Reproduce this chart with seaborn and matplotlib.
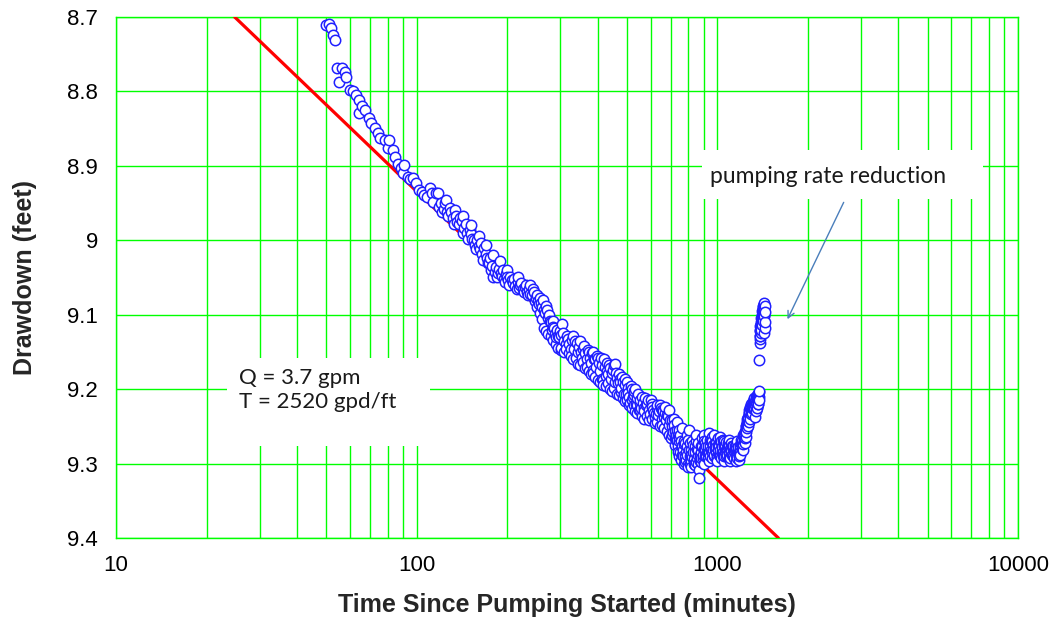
import numpy as np
import pandas as pd
import matplotlib
matplotlib.use("Agg")
import matplotlib.pyplot as plt
from matplotlib.patches import Rectangle
from matplotlib.ticker import FixedLocator, LogLocator, NullFormatter
import seaborn as sns

# Observed drawdown (feet) versus elapsed time (minutes)
time_early = [50.1, 51.0, 51.7, 52.5, 53.5, 54.1, 55.2, 56.5, 57.7, 58.1, 59.8, 61.4, 63.0,
              64.3, 64.5, 65.6, 67.3, 69.6, 70.7, 72.5, 74.3, 75.3, 78.4, 80.5, 80.9, 83.5,
              84.5, 86.5, 88.5, 90.0, 91.0, 93.5, 95.0, 97.0, 99.6, 102, 104, 106, 107.8,
              110.5, 112, 112.9, 116, 117.5, 119]
draw_early = [8.711, 8.709, 8.715, 8.724, 8.731, 8.768, 8.788, 8.768, 8.774, 8.780, 8.798,
              8.800, 8.805, 8.812, 8.829, 8.820, 8.825, 8.836, 8.843, 8.849, 8.856, 8.863,
              8.865, 8.876, 8.865, 8.879, 8.888, 8.897, 8.903, 8.910, 8.899, 8.915, 8.918,
              8.917, 8.923, 8.932, 8.935, 8.939, 8.942, 8.930, 8.937, 8.948, 8.937, 8.937,
              8.955]

time_mid = [120, 123, 126, 129, 132, 135, 138, 141, 144, 147, 150, 153, 156, 159, 162, 165,
            168, 171, 174, 177, 180, 183, 186, 189, 192, 195, 198, 201, 205, 209, 213, 217,
            221, 225, 229, 233, 237, 241, 245, 249, 253, 257, 261, 265, 269, 273, 277, 281,
            285, 289, 293, 297, 301]
draw_mid = [8.950, 8.958, 8.962, 8.957, 8.970, 8.968, 8.978, 8.974, 8.984, 8.990, 8.986,
            8.998, 9.006, 9.000, 9.012, 9.018, 9.010, 9.024, 9.030, 9.040, 9.049, 9.036,
            9.044, 9.028, 9.048, 9.052, 9.045, 9.054, 9.050, 9.058, 9.062, 9.056, 9.060,
            9.066, 9.063, 9.070, 9.066, 9.074, 9.070, 9.078, 9.082, 9.078, 9.090, 9.094,
            9.088, 9.104, 9.108, 9.120, 9.116, 9.126, 9.121, 9.130, 9.127]
time_mid_b = [121.5, 124.5, 127.5, 130.5, 133.5, 136.5, 139.5, 142.5, 145.5, 148.5, 151.5,
              154.5, 157.5, 160.5, 163.5, 166.5, 169.5, 172.5, 175.5, 178.5, 181.5, 184.5,
              187.5, 190.5, 193.5, 196.5, 199.5, 203, 207, 211, 215, 219, 223, 227, 231,
              235, 239, 243, 247, 251, 255, 259, 263, 267, 271, 275, 279, 283, 287, 291,
              295, 299]
draw_mid_b = [8.962, 8.950, 8.968, 8.962, 8.978, 8.975, 8.970, 8.990, 8.978, 8.998, 8.992,
              9.000, 9.012, 9.008, 9.004, 9.026, 9.018, 9.030, 9.024, 9.034, 9.042, 9.050,
              9.038, 9.044, 9.040, 9.056, 9.050, 9.060, 9.054, 9.052, 9.066, 9.064, 9.058,
              9.070, 9.060, 9.074, 9.072, 9.066, 9.082, 9.074, 9.086, 9.084, 9.080, 9.098,
              9.094, 9.100, 9.110, 9.108, 9.118, 9.130, 9.128, 9.122]
time_mid_top = [125, 134, 143, 152, 161, 170, 179, 199, 218, 238]
draw_mid_top = [8.946, 8.960, 8.968, 8.980, 8.994, 9.006, 9.020, 9.040, 9.050, 9.060]

time_late = [303, 305, 310, 316, 322, 328, 334, 340, 346, 352, 358, 364, 370, 376, 382, 386,
             392, 398, 404, 410, 416, 422, 428, 434, 440, 446, 452, 458, 464, 470, 476, 482,
             488, 494, 500, 506, 512, 518, 524, 530, 536, 542, 548, 554, 560, 568, 576, 584,
             592, 600, 608, 616, 624, 632, 640, 648, 656, 664, 672, 680, 688, 696]
draw_late = [9.145, 9.112, 9.135, 9.128, 9.140, 9.134, 9.146, 9.138, 9.143, 9.150, 9.146,
             9.152, 9.147, 9.158, 9.152, 9.174, 9.160, 9.155, 9.165, 9.158, 9.188, 9.170,
             9.165, 9.180, 9.172, 9.179, 9.168, 9.166, 9.185, 9.180, 9.190, 9.184, 9.206,
             9.195, 9.190, 9.205, 9.219, 9.200, 9.210, 9.203, 9.220, 9.212, 9.228, 9.215,
             9.210, 9.225, 9.212, 9.220, 9.228, 9.215, 9.224, 9.232, 9.233, 9.222, 9.230,
             9.226, 9.228, 9.238, 9.224, 9.235, 9.228, 9.242]
time_late_b = [307, 313, 319, 325, 331, 337, 343, 349, 355, 361, 367, 373, 379, 385, 389,
               395, 401, 407, 413, 419, 425, 431, 437, 443, 449, 455, 461, 467, 473, 479,
               485, 491, 497, 503, 509, 515, 521, 527, 533, 539, 545, 551, 557, 564, 572,
               580, 588, 596, 604, 612, 620, 628, 636, 644, 652, 660, 668, 676, 684, 692]
draw_late_b = [9.124, 9.140, 9.132, 9.146, 9.128, 9.136, 9.150, 9.136, 9.158, 9.142, 9.160,
               9.150, 9.165, 9.150, 9.160, 9.170, 9.158, 9.176, 9.168, 9.160, 9.182, 9.175,
               9.168, 9.186, 9.174, 9.190, 9.178, 9.192, 9.186, 9.198, 9.190, 9.186, 9.206,
               9.198, 9.210, 9.196, 9.215, 9.208, 9.200, 9.222, 9.206, 9.218, 9.226, 9.218,
               9.230, 9.222, 9.215, 9.234, 9.220, 9.228, 9.238, 9.226, 9.235, 9.222, 9.240,
               9.230, 9.232, 9.242, 9.236, 9.248]
time_late_low = [252, 258, 262, 266, 270, 274, 279, 284, 290, 296, 302, 308, 314, 320, 326,
                 332, 338, 344, 350, 356, 362, 368, 374, 380, 387, 393, 400, 406, 412, 418,
                 426, 433, 440, 447, 454, 462, 470, 478, 486, 494, 502, 510, 518, 526, 534,
                 542, 552, 562, 572, 582, 594, 606, 618, 630, 642, 654, 666, 678, 690, 702]
draw_late_low = [9.090, 9.098, 9.106, 9.118, 9.122, 9.126, 9.128, 9.134, 9.140, 9.145,
                 9.148, 9.150, 9.146, 9.152, 9.156, 9.160, 9.158, 9.166, 9.168, 9.164,
                 9.172, 9.170, 9.176, 9.180, 9.178, 9.184, 9.188, 9.190, 9.186, 9.194,
                 9.196, 9.192, 9.200, 9.202, 9.198, 9.206, 9.208, 9.204, 9.212, 9.216,
                 9.214, 9.222, 9.226, 9.222, 9.230, 9.232, 9.228, 9.236, 9.240, 9.236,
                 9.242, 9.240, 9.246, 9.244, 9.250, 9.248, 9.252, 9.256, 9.262, 9.266]

time_flat = [704, 708, 712, 718, 722, 727, 732, 738, 742, 746, 750, 754, 757, 762, 765, 770,
             775, 780, 785, 790, 795, 800, 805, 810, 815, 820, 826, 832, 838, 844, 850, 856,
             862, 868, 870, 876, 882, 889, 895, 900, 906, 912, 918, 924, 930, 936, 942, 948,
             954, 960, 966, 972, 978, 984, 990, 996, 1002, 1008, 1014, 1020, 1026, 1032,
             1040, 1046, 1052, 1058, 1066, 1072, 1080, 1086, 1094, 1100, 1106, 1112, 1121,
             1128, 1135, 1142, 1150, 1156, 1163, 1170, 1178, 1185, 1190, 1196]
draw_flat = [9.250, 9.241, 9.258, 9.248, 9.266, 9.268, 9.255, 9.276, 9.262, 9.255, 9.284,
             9.270, 9.295, 9.278, 9.277, 9.290, 9.270, 9.298, 9.285, 9.262, 9.277, 9.300,
             9.255, 9.290, 9.282, 9.296, 9.291, 9.275, 9.300, 9.285, 9.270, 9.293, 9.282,
             9.309, 9.320, 9.288, 9.276, 9.266, 9.292, 9.281, 9.272, 9.281, 9.290, 9.268,
             9.284, 9.259, 9.276, 9.290, 9.270, 9.285, 9.275, 9.262, 9.288, 9.280, 9.272,
             9.290, 9.266, 9.282, 9.276, 9.288, 9.270, 9.283, 9.268, 9.290, 9.276, 9.284,
             9.282, 9.271, 9.288, 9.278, 9.293, 9.280, 9.286, 9.272, 9.277, 9.290, 9.283,
             9.276, 9.288, 9.280, 9.290, 9.282, 9.286, 9.276, 9.284, 9.273]
time_flat_b = [706, 715, 720, 725, 730, 735, 740, 744, 748, 752, 760, 767, 772, 778, 783,
               788, 793, 798, 803, 808, 813, 818, 823, 829, 835, 841, 847, 853, 859, 865,
               873, 879, 885, 892, 898, 903, 909, 915, 921, 927, 933, 939, 945, 951, 957,
               963, 969, 975, 981, 987, 993, 999, 1005, 1011, 1017, 1023, 1029, 1036, 1043,
               1049, 1055, 1062, 1069, 1076, 1083, 1090, 1097, 1103, 1109, 1117, 1124, 1131,
               1138, 1146, 1153, 1160, 1166, 1174, 1181, 1188, 1193]
draw_flat_b = [9.262, 9.240, 9.256, 9.275, 9.262, 9.268, 9.285, 9.270, 9.265, 9.262, 9.288,
               9.282, 9.274, 9.290, 9.272, 9.295, 9.288, 9.268, 9.282, 9.300, 9.272, 9.288,
               9.270, 9.284, 9.294, 9.276, 9.298, 9.280, 9.288, 9.272, 9.296, 9.284, 9.292,
               9.276, 9.288, 9.270, 9.290, 9.276, 9.284, 9.292, 9.276, 9.286, 9.268, 9.282,
               9.292, 9.270, 9.282, 9.290, 9.272, 9.284, 9.278, 9.292, 9.276, 9.288, 9.270,
               9.282, 9.292, 9.278, 9.284, 9.270, 9.290, 9.276, 9.290, 9.280, 9.272, 9.286,
               9.276, 9.292, 9.282, 9.288, 9.280, 9.276, 9.292, 9.282, 9.276, 9.284, 9.292,
               9.278, 9.290, 9.280, 9.288]
time_flat_edge = [745, 775, 800, 820, 845, 860, 880, 905, 940, 1000, 1050, 1100, 1150, 1180,
                  850, 900, 960, 1020, 1090, 1160, 735, 760]
draw_flat_edge = [9.290, 9.300, 9.305, 9.305, 9.302, 9.300, 9.298, 9.300, 9.296, 9.296,
                  9.297, 9.297, 9.296, 9.295, 9.262, 9.262, 9.264, 9.265, 9.268, 9.270,
                  9.244, 9.252]

time_rise = [1200, 1206, 1212, 1218, 1226, 1232, 1238, 1242, 1246, 1250, 1255, 1260, 1265,
             1270, 1275, 1280, 1286, 1292, 1298, 1304, 1310, 1318, 1325, 1332, 1338, 1344,
             1348, 1352, 1356, 1360, 1364, 1368, 1372, 1374, 1376]
draw_rise = [9.268, 9.280, 9.262, 9.274, 9.264, 9.256, 9.266, 9.250, 9.258, 9.240, 9.246,
             9.237, 9.243, 9.232, 9.228, 9.236, 9.224, 9.230, 9.220, 9.226, 9.216, 9.219,
             9.212, 9.237, 9.222, 9.210, 9.230, 9.215, 9.208, 9.220, 9.206, 9.212, 9.204,
             9.214, 9.203]
time_rise_b = [1203, 1209, 1215, 1222, 1229, 1235, 1240, 1244, 1248, 1252, 1258, 1262, 1268,
               1272, 1278, 1283, 1289, 1295, 1301, 1307, 1314, 1321, 1328, 1335, 1341, 1346,
               1350, 1354, 1358, 1362, 1366, 1370]
draw_rise_b = [9.275, 9.270, 9.282, 9.270, 9.262, 9.272, 9.258, 9.264, 9.250, 9.252, 9.244,
               9.250, 9.240, 9.244, 9.232, 9.240, 9.234, 9.228, 9.232, 9.222, 9.226, 9.218,
               9.226, 9.216, 9.228, 9.218, 9.224, 9.212, 9.226, 9.214, 9.220, 9.210]

# After the pumping rate was cut back
time_cut = [1380, 1382, 1384, 1385, 1387, 1388, 1390, 1391, 1393, 1395, 1396, 1398, 1400,
            1401, 1403, 1405, 1406, 1408, 1410, 1411, 1413, 1415, 1416, 1418, 1420, 1421,
            1423, 1425, 1426, 1427, 1428, 1430, 1431, 1433, 1435, 1436, 1438, 1440]
draw_cut = [9.161, 9.138, 9.132, 9.128, 9.120, 9.122, 9.115, 9.128, 9.125, 9.110, 9.112,
            9.118, 9.105, 9.120, 9.112, 9.100, 9.104, 9.108, 9.095, 9.114, 9.102, 9.090,
            9.100, 9.098, 9.092, 9.108, 9.088, 9.100, 9.092, 9.125, 9.085, 9.094, 9.102,
            9.084, 9.118, 9.088, 9.110, 9.096]

# Jacob straight-line fit (Q = 3.7 gpm, T = 2520 gpd/ft)
fit_time = [24.8, 1595]
fit_draw = [8.7, 9.4]

x_ticks = [10, 100, 1000, 10000]
x_tick_labels = ["10", "100", "1000", "10000"]
y_ticks = [8.7, 8.8, 8.9, 9.0, 9.1, 9.2, 9.3, 9.4]
y_tick_labels = ["8.7", "8.8", "8.9", "9", "9.1", "9.2", "9.3", "9.4"]

obs = pd.DataFrame({
    "time": (time_early + time_mid + time_mid_b + time_mid_top + time_late + time_late_b
             + time_late_low + time_flat + time_flat_b + time_flat_edge + time_rise
             + time_rise_b + time_cut),
    "drawdown": (draw_early + draw_mid + draw_mid_b + draw_mid_top + draw_late + draw_late_b
                 + draw_late_low + draw_flat + draw_flat_b + draw_flat_edge + draw_rise
                 + draw_rise_b + draw_cut),
}).sort_values("time")
fit = pd.DataFrame({"time": fit_time, "drawdown": fit_draw})

sns.set_style("white")
plt.rcParams["font.family"] = ["Liberation Sans", "DejaVu Sans"]

GREEN = "#00ff00"
fig = plt.figure(figsize=(10.55, 6.2), dpi=100)
ax = fig.add_axes([0.110, 0.1323, 0.855, 0.8403])
ax.set_xscale("log")
ax.set_axisbelow(True)

sns.lineplot(data=fit, x="time", y="drawdown", ax=ax, color="#ff0000", lw=2.3,
             zorder=3, sort=False)
sns.scatterplot(data=obs, x="time", y="drawdown", ax=ax, marker="o", s=56,
                facecolor="white", edgecolor="#1f1fff", linewidth=1.1, zorder=4)

ax.set_xlim(10, 10000)
ax.set_ylim(9.4, 8.7)

ax.xaxis.set_major_locator(FixedLocator(x_ticks))
ax.set_xticklabels(x_tick_labels)
ax.xaxis.set_minor_locator(LogLocator(base=10, subs=np.arange(2, 10)))
ax.xaxis.set_minor_formatter(NullFormatter())
ax.yaxis.set_major_locator(FixedLocator(y_ticks))
ax.set_yticklabels(y_tick_labels)

ax.grid(True, which="major", color=GREEN, lw=1.0)
ax.grid(True, which="minor", axis="x", color=GREEN, lw=1.0)
ax.tick_params(which="major", direction="out", length=5, width=1.0, color=GREEN,
               labelsize=16, labelcolor="black")
ax.tick_params(axis="x", which="major", pad=7)
ax.tick_params(axis="y", which="major", pad=8)
ax.tick_params(which="minor", length=0)
for sp in ax.spines.values():
    sp.set_color(GREEN)
    sp.set_linewidth(1.0)

ax.set_xlabel("Time Since Pumping Started (minutes)", fontsize=18, fontweight="bold")
ax.set_ylabel("Drawdown (feet)", fontsize=18, fontweight="bold")
ax.xaxis.set_label_coords(0.5, -0.1286)
ax.xaxis.label.set_va("center")
ax.yaxis.set_label_coords(-0.101, 0.5)
ax.yaxis.label.set_va("center")

# Text boxes
note_font = ["Lato", "DejaVu Sans"]
ax.add_patch(Rectangle((0.123, 0.1766), 0.225, 0.169, transform=ax.transAxes,
                       facecolor="white", edgecolor="none", zorder=5))
ax.text(0.1364, 0.284, "Q = 3.7 gpm\nT = 2520 gpd/ft", transform=ax.transAxes,
        ha="left", va="center", fontsize=16, family=note_font, color="#1a1a1a",
        linespacing=1.2, zorder=6)

ax.add_patch(Rectangle((0.6497, 0.651), 0.3113, 0.094, transform=ax.transAxes,
                       facecolor="white", edgecolor="none", zorder=5))
ax.text(0.6585, 0.693, "pumping rate reduction", transform=ax.transAxes,
        ha="left", va="center", fontsize=16.5, family=note_font, color="#1a1a1a", zorder=6)
ax.annotate("", xy=(0.743, 0.415), xytext=(0.808, 0.649), xycoords="axes fraction",
            textcoords="axes fraction",
            arrowprops=dict(arrowstyle="->", color="#4a7ebb", lw=1.0,
                            mutation_scale=12), zorder=6)

fig.savefig("out.png", dpi=100)
